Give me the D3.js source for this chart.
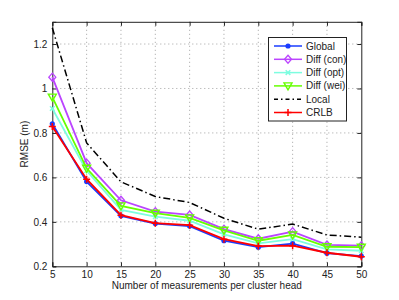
<!DOCTYPE html>
<html><head><meta charset="utf-8">
<script src="https://cdn.jsdelivr.net/npm/d3@7"></script>
<style>body{margin:0;background:#fff}svg{display:block;font-family:"Liberation Sans",Arial,sans-serif}</style>
</head><body><svg id="c" width="399" height="300"></svg>
<script>
const xs = [5,10,15,20,25,30,35,40,45,50];
const global = [0.841,0.581,0.427,0.392,0.381,0.315,0.286,0.302,0.259,0.246];
const diffCon = [1.051,0.664,0.497,0.446,0.431,0.367,0.324,0.356,0.296,0.293];
const diffOpt = [0.910,0.630,0.454,0.423,0.405,0.344,0.303,0.322,0.276,0.270];
const diffWei = [0.961,0.641,0.472,0.439,0.418,0.362,0.315,0.341,0.288,0.286];
const local = [1.273,0.755,0.580,0.514,0.487,0.416,0.367,0.390,0.341,0.331];
const crlb = [0.829,0.592,0.430,0.394,0.385,0.322,0.291,0.293,0.261,0.243];
const xTicks = [5,10,15,20,25,30,35,40,45,50];
const yTicks = [0.2,0.4,0.6,0.8,1.0,1.2];
const seriesNames = ["Global","Diff (con)","Diff (opt)","Diff (wei)","Local","CRLB"];

const series = [
  {name:seriesNames[0], v:global, color:"#1a3cff", marker:"dot"},
  {name:seriesNames[1], v:diffCon, color:"#bb44ff", marker:"diamond"},
  {name:seriesNames[2], v:diffOpt, color:"#7dfde0", marker:"x"},
  {name:seriesNames[3], v:diffWei, color:"#66ff00", marker:"tri"},
  {name:seriesNames[4], v:local, color:"#000000", marker:"none", dash:"7,3,1.5,3"},
  {name:seriesNames[5], v:crlb, color:"#ff0000", marker:"plus"}
];

const svg = d3.select("#c");
const L=52.3, R=361.3, T=21.8, B=266.3;
const x = d3.scaleLinear().domain([5,50]).range([L,R]);
const y = d3.scaleLinear().domain([0.2,1.3]).range([B,T]);

// grid
const g = svg.append("g");
xTicks.slice(1,-1).forEach(t=>g.append("line").attr("x1",x(t)).attr("x2",x(t)).attr("y1",T).attr("y2",B)
  .attr("stroke","#8a8a8a").attr("stroke-width",0.8).attr("stroke-dasharray","1,3"));
yTicks.slice(1).forEach(t=>g.append("line").attr("x1",L).attr("x2",R).attr("y1",y(t)).attr("y2",y(t))
  .attr("stroke","#8a8a8a").attr("stroke-width",0.8).attr("stroke-dasharray","1,3"));

// axes
svg.append("g").attr("transform",`translate(0,${B})`)
  .call(d3.axisBottom(x).tickValues(xTicks).tickSize(-4).tickPadding(5).tickFormat(d3.format("d")));
svg.append("g").attr("transform",`translate(${L},0)`)
  .call(d3.axisLeft(y).tickValues(yTicks).tickSize(-4).tickPadding(5).tickFormat(d=>d3.format("")(+d.toFixed(1))));
svg.append("g").attr("transform",`translate(0,${T})`)
  .call(d3.axisTop(x).tickValues(xTicks).tickSize(-4).tickFormat(""));
svg.append("g").attr("transform",`translate(${R},0)`)
  .call(d3.axisRight(y).tickValues(yTicks).tickSize(-4).tickFormat(""));
svg.selectAll(".domain").attr("stroke","#222").attr("stroke-width",1);
svg.selectAll(".tick line").attr("stroke","#222");
svg.selectAll(".tick text").attr("font-size",10).attr("fill","#222").attr("font-family","Liberation Sans, Arial, sans-serif");

const line = d3.line().x((d,i)=>x(xs[i])).y(d=>y(d));

function marker(sel, type, color, cx, cy){
  if(type==="dot") sel.append("circle").attr("cx",cx).attr("cy",cy).attr("r",2.6).attr("fill",color);
  else if(type==="diamond") sel.append("path").attr("d",`M${cx},${cy-4}L${cx+3.5},${cy}L${cx},${cy+4}L${cx-3.5},${cy}Z`)
    .attr("fill","none").attr("stroke",color).attr("stroke-width",1.3);
  else if(type==="x") sel.append("path").attr("d",`M${cx-2.3},${cy-2.3}L${cx+2.3},${cy+2.3}M${cx-2.3},${cy+2.3}L${cx+2.3},${cy-2.3}`)
    .attr("stroke",color).attr("stroke-width",1.5);
  else if(type==="tri") sel.append("path").attr("d",`M${cx-4},${cy-3}L${cx+4},${cy-3}L${cx},${cy+4}Z`)
    .attr("fill","none").attr("stroke",color).attr("stroke-width",1.4);
  else if(type==="plus") sel.append("path").attr("d",`M${cx-3.5},${cy}L${cx+3.5},${cy}M${cx},${cy-3.5}L${cx},${cy+3.5}`)
    .attr("stroke",color).attr("stroke-width",1.5);
}

const order=[4,1,2,3,0,5];
order.forEach(k=>{
  const s=series[k];
  const sg=svg.append("g");
  sg.append("path").datum(s.v).attr("d",line).attr("fill","none").attr("stroke",s.color)
    .attr("stroke-width",s.dash?1.5:1.8).attr("stroke-dasharray",s.dash||null);
  s.v.forEach((v,i)=>marker(sg,s.marker,s.color,x(xs[i]),y(v)));
});

// legend
const lg = svg.append("g");
lg.append("rect").attr("x",268.5).attr("y",37.5).attr("width",78).attr("height",83.5)
  .attr("fill","#fff").attr("stroke","#222").attr("stroke-width",1);
series.forEach((s,i)=>{
  const yy = 46 + i*13.3;
  lg.append("line").attr("x1",274).attr("x2",302).attr("y1",yy).attr("y2",yy).attr("stroke",s.color)
    .attr("stroke-width",1.5).attr("stroke-dasharray",s.dash?"4,3,1.5,3":null);
  marker(lg,s.marker,s.color,288,yy);
  lg.append("text").attr("x",306).attr("y",yy+3.5).attr("font-size",10).attr("fill","#222").text(s.name);
});

svg.append("text").attr("x",(L+R)/2).attr("y",289).attr("text-anchor","middle").attr("font-size",10).attr("fill","#222")
  .text("Number of measurements per cluster head");
svg.append("text").attr("transform",`translate(28,${(T+B)/2}) rotate(-90)`).attr("text-anchor","middle")
  .attr("font-size",10).attr("fill","#222").text("RMSE (m)");
</script></body></html>
